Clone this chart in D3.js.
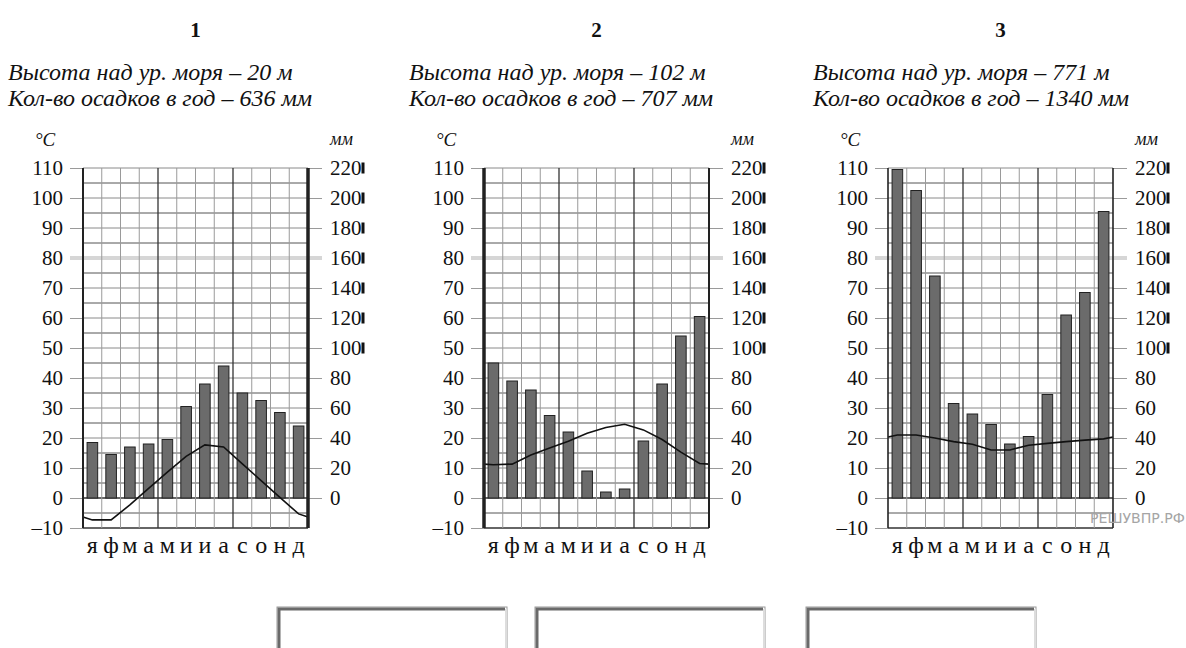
<!DOCTYPE html>
<html>
<head>
<meta charset="utf-8">
<title>Климатограммы</title>
<style>
  body { margin: 0; background: #fff; }
  svg text { font-family: "Liberation Serif", "DejaVu Serif", serif; fill: #111; }
</style>
</head>
<body>
<svg width="1186" height="648"></svg>
<script src="https://cdn.jsdelivr.net/npm/d3@7/dist/d3.min.js"></script>
<script>
// данные
const months = ["я", "ф", "м", "а", "м", "и", "и", "а", "с", "о", "н", "д"]
const chartNames = ["1", "2", "3"]
const heightLines = ["Высота над ур. моря – 20 м", "Высота над ур. моря – 102 м", "Высота над ур. моря – 771 м"]
const rainLines = ["Кол-во осадков в год – 636 мм", "Кол-во осадков в год – 707 мм", "Кол-во осадков в год – 1340 мм"]
const tempTicks = [-10, 0, 10, 20, 30, 40, 50, 60, 70, 80, 90, 100, 110]
const mmTicks = [0, 20, 40, 60, 80, 100, 120, 140, 160, 180, 200, 220]

// осадки, мм
const precip1 = [37, 29, 34, 36, 39, 61, 76, 88, 70, 65, 57, 48]
const precip2 = [90, 78, 72, 55, 44, 18, 4, 6, 38, 76, 108, 121]
const precip3 = [219, 205, 148, 63, 56, 49, 36, 41, 69, 122, 137, 191]
// температура, °C
const temp1 = [-7.3, -7.3, -2.3, 3.2, 8.6, 13.9, 17.7, 17, 11.4, 5.8, 0.2, -5.3]
const temp2 = [11.1, 11.3, 14.3, 16.7, 18.9, 21.6, 23.5, 24.6, 22.7, 19.5, 15.3, 11.5]
const temp3 = [21, 21, 20, 18.8, 17.9, 16, 16, 17.6, 18.2, 18.8, 19.3, 19.7]

const precips = [precip1, precip2, precip3]
const temps = [temp1, temp2, temp3]

// расположение
const lefts = [83, 484, 888]
const plotW = 225
const plotTop = 168, plotBottom = 528
const leftAxisW = [2, 3.5, 1.6]
const rightAxisW = [3.5, 2, 1.6]

const svg = d3.select("svg")

chartNames.forEach((name, k) => {
	const L = lefts[k], R = L + plotW
	const g = svg.append("g")

	const x = d3.scaleBand().domain(d3.range(12)).range([L, R]).padding(0)
	const y = d3.scaleLinear().domain([-10, 110]).range([plotBottom, plotTop])
	const yMm = d3.scaleLinear().domain([-20, 220]).range([plotBottom, plotTop])
	const cx = i => x(i) + x.bandwidth() / 2

	// заголовки
	g.append("text").attr("x", (L + R) / 2).attr("y", 37)
		.attr("text-anchor", "middle").attr("font-weight", "bold").attr("font-size", 21)
		.text(name)
	g.append("text").attr("x", L - 75).attr("y", 80)
		.attr("font-style", "italic").attr("font-size", 24)
		.text(heightLines[k])
	g.append("text").attr("x", L - 75).attr("y", 106)
		.attr("font-style", "italic").attr("font-size", 24)
		.text(rainLines[k])
	g.append("text").attr("x", L - 48).attr("y", 146).attr("font-size", 19)
		.attr("font-style", "italic").text("°C")
	g.append("text").attr("x", R + 22).attr("y", 145)
		.attr("font-style", "italic").attr("font-size", 18).text("мм")

	// полоса 80
	g.append("line").attr("x1", L - 13).attr("x2", R + 14)
		.attr("y1", y(80)).attr("y2", y(80))
		.attr("stroke", "#d6d6d6").attr("stroke-width", 4)

	// горизонтальная сетка
	const half = d3.range(-5, 110, 10)
	g.append("g").selectAll("line").data(half).join("line")
		.attr("x1", L).attr("x2", R)
		.attr("y1", d => y(d)).attr("y2", d => y(d))
		.attr("stroke", "#555").attr("stroke-width", 1)

	// оси
	const ax = g.append("g").attr("transform", `translate(${L},0)`)
		.call(d3.axisLeft(y).tickValues(tempTicks).tickSize(13).tickPadding(7))
	ax.select(".domain").remove()
	ax.selectAll(".tick line").attr("stroke", d => d === 80 ? "none" : "#9a9a9a")
	ax.selectAll(".tick text").attr("font-size", 21)
		.text(d => d < 0 ? "–" + Math.abs(d) : d)

	const ar = g.append("g").attr("transform", `translate(${R},0)`)
		.call(d3.axisRight(yMm).tickValues(mmTicks).tickSize(14).tickPadding(8))
	ar.select(".domain").remove()
	ar.selectAll(".tick line").attr("stroke", d => d === 160 ? "none" : "#9a9a9a")
	ar.selectAll(".tick text").attr("font-size", 21)
	ar.selectAll(".tick").filter(d => d >= 100).each(function () {
		const t = d3.select(this).select("text")
		const w = t.node().getComputedTextLength()
		d3.select(this).append("rect").attr("x", 22 + w).attr("y", -6)
			.attr("width", 3).attr("height", 11).attr("fill", "#111")
	})

	// линии по 10 внутри поля
	g.append("g").selectAll("line").data(tempTicks.filter(d => d !== 80)).join("line")
		.attr("x1", L).attr("x2", R)
		.attr("y1", d => y(d)).attr("y2", d => y(d))
		.attr("stroke", d => d <= 0 ? "#333" : "#8a8a8a").attr("stroke-width", d => d <= 0 ? 1.3 : 1)

	// вертикальная сетка
	g.append("g").selectAll("line").data(d3.range(1, 12)).join("line")
		.attr("x1", d => L + d * x.step()).attr("x2", d => L + d * x.step())
		.attr("y1", plotTop).attr("y2", plotBottom)
		.attr("stroke", d => d % 4 === 0 ? "#333" : "#9a9a9a")
		.attr("stroke-width", d => d % 4 === 0 ? 1.3 : 1)

	// столбики осадков
	g.append("g").selectAll("rect").data(precips[k]).join("rect")
		.attr("x", (d, i) => cx(i) - 5.3).attr("width", 10.6)
		.attr("y", d => yMm(d)).attr("height", d => yMm(0) - yMm(d))
		.attr("fill", "#6b6b6b").attr("stroke", "#222").attr("stroke-width", 1)

	// температура
	const t = temps[k]
	const edge = (t[0] + t[11]) / 2
	const pts = [[L, edge]].concat(t.map((v, i) => [cx(i), v]), [[R, edge]])
	g.append("path").datum(pts)
		.attr("d", d3.line().x(d => d[0]).y(d => y(d[1])))
		.attr("fill", "none").attr("stroke", "#111").attr("stroke-width", 1.6)

	// оси поля
	g.append("line").attr("x1", L).attr("x2", L).attr("y1", plotTop).attr("y2", plotBottom)
		.attr("stroke", "#222").attr("stroke-width", leftAxisW[k])
	g.append("line").attr("x1", R).attr("x2", R).attr("y1", plotTop).attr("y2", plotBottom)
		.attr("stroke", "#222").attr("stroke-width", rightAxisW[k])

	// месяцы
	g.append("g").selectAll("text").data(months).join("text")
		.attr("x", (d, i) => cx(i)).attr("y", 553)
		.attr("text-anchor", "middle").attr("font-size", 24)
		.text(d => d)
})

// водяной знак
svg.append("text").attr("x", 1090).attr("y", 523)
	.style("font-family", "'DejaVu Sans', sans-serif").attr("font-size", 14)
	.attr("textLength", 95).attr("lengthAdjust", "spacingAndGlyphs")
	.style("fill", "#a5a5a5").text("РЕШУВПР.РФ")

// поля для ответа
const boxX = [277, 535, 806]
svg.append("g").selectAll("g").data(boxX).join("g").each(function (bx) {
	const b = d3.select(this)
	b.append("rect").attr("x", bx).attr("y", 607).attr("width", 230).attr("height", 60)
		.attr("fill", "#fff").attr("stroke", "#9a9a9a").attr("stroke-width", 1)
	b.append("path").attr("d", `M${bx + 2},667 V${609} H${bx + 228}`)
		.attr("fill", "none").attr("stroke", "#6a6a6a").attr("stroke-width", 3)
	b.append("line").attr("x1", bx + 229).attr("x2", bx + 229).attr("y1", 609).attr("y2", 667)
		.attr("stroke", "#ddd").attr("stroke-width", 2)
})
</script>
</body>
</html>
